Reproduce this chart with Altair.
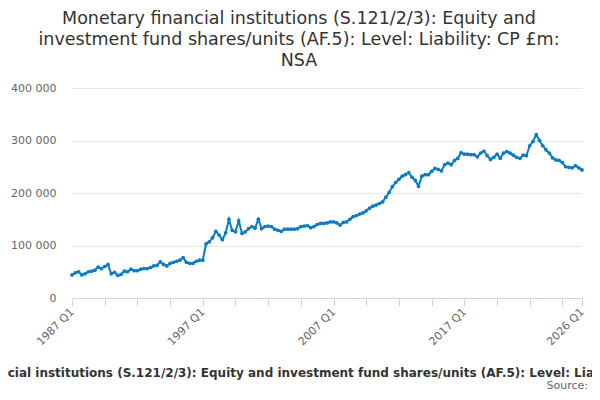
import altair as alt
import pandas as pd

values = [
    44000, 48000, 50000, 44000, 46000, 50000, 51000, 53000, 59000, 56000,
    60000, 64000, 46000, 49000, 43000, 45000, 51000, 50000, 55000, 52000,
    52000, 55000, 56000, 56000, 58000, 61000, 62000, 69000, 64000, 61000,
    66000, 68000, 70000, 72000, 77000, 68000, 66000, 66000, 70000, 72000,
    72000, 103000, 107000, 115000, 127000, 120000, 111000, 124000, 150000, 129000,
    126000, 147000, 123000, 126000, 132000, 136000, 133000, 150000, 132000, 136000,
    137000, 136000, 131000, 129000, 127000, 131000, 131000, 131000, 131000, 132000,
    136000, 137000, 138000, 134000, 136000, 140000, 142000, 142000, 143000, 145000,
    145000, 143000, 139000, 144000, 145000, 150000, 155000, 157000, 160000, 162000,
    166000, 171000, 175000, 177000, 180000, 183000, 192000, 201000, 212000, 220000,
    226000, 232000, 235000, 239000, 230000, 224000, 213000, 232000, 235000, 235000,
    241000, 247000, 245000, 242000, 254000, 257000, 254000, 262000, 266000, 277000,
    274000, 274000, 273000, 273000, 269000, 276000, 280000, 271000, 264000, 268000,
    274000, 266000, 276000, 279000, 276000, 272000, 268000, 266000, 272000, 271000,
    290000, 298000, 311000, 300000, 290000, 282000, 276000, 267000, 263000, 262000,
    258000, 250000, 249000, 248000, 252000, 248000, 244000,
]
start_year = 1987
quarters = [f"{start_year + i // 4} Q{i % 4 + 1}" for i in range(len(values))]
x_tick_values = list(range(0, len(values), 10)) + [len(values) - 1]
x_label_values = [0, 40, 80, 120, len(values) - 1]
y_tick_values = [0, 100000, 200000, 300000, 400000]

title_lines = [
    "Monetary financial institutions (S.121/2/3): Equity and",
    "investment fund shares/units (AF.5): Level: Liability: CP £m:",
    "NSA",
]
axis_title = "Monetary financial institutions (S.121/2/3): Equity and investment fund shares/units (AF.5): Level: Liability: CP £m: NSA"
source_text = "Source:"

df = pd.DataFrame({"q": list(range(len(values))), "label": quarters, "value": values})

FONT = "DejaVu Sans"
COLOR = "#0a7cc2"

label_cond = " || ".join(f"datum.value == {v}" for v in x_label_values)
x_label_expr = f"({label_cond}) ? (toString({start_year} + floor(datum.value / 4)) + ' Q' + toString(datum.value % 4 + 1)) : ''"

x = alt.X(
    "q:Q",
    scale=alt.Scale(domain=[0, len(values) - 1], nice=False, zero=False),
    axis=alt.Axis(
        values=x_tick_values,
        labelExpr=x_label_expr,
        labelAngle=-45,
        labelAlign="right",
        labelBaseline="middle",
        labelFont=FONT,
        labelFontSize=11,
        labelColor="#666666",
        labelPadding=4,
        labelOverlap=False,
        labelFlush=False,
        domainColor="#ccd6eb",
        tickColor="#ccd6eb",
        tickSize=8,
        grid=False,
        title=None,
    ),
)
y = alt.Y(
    "value:Q",
    scale=alt.Scale(domain=[0, 400000], nice=False),
    axis=alt.Axis(
        values=y_tick_values,
        labelExpr="replace(format(datum.value, ','), ',', ' ')",
        labelFont=FONT,
        labelFontSize=11,
        labelColor="#666666",
        labelPadding=16,
        domain=False,
        ticks=False,
        gridColor="#e6e6e6",
        title=None,
    ),
)

line = alt.Chart(df).mark_line(color=COLOR, strokeWidth=2).encode(x=x, y=y)
pts = alt.Chart(df).mark_circle(color=COLOR, size=14, opacity=1).encode(x=x, y=y)

one = alt.Data(values=[{"a": 1}])
title = alt.Chart(one).mark_text(
    text="\n".join(title_lines), lineBreak="\n", lineHeight=21, font=FONT,
    fontSize=17.5, color="#333333", align="center", baseline="alphabetic",
).encode(x=alt.value(227), y=alt.value(-64))
xtitle = alt.Chart(one).mark_text(
    text=axis_title, font=FONT, fontSize=12, fontWeight="bold", color="#333333",
    align="center", baseline="alphabetic",
).encode(x=alt.value(239), y=alt.value(289))
source = alt.Chart(one).mark_text(
    text=source_text, font=FONT, fontSize=11, color="#666666",
    align="right", baseline="alphabetic",
).encode(x=alt.value(516), y=alt.value(301))

chart = alt.layer(line, pts, title, xtitle, source).properties(
    width=510, height=210,
    autosize=alt.AutoSizeParams(type="none"),
    padding={"left": 64, "top": 80, "right": 10, "bottom": 94},
).configure_view(stroke=None)

chart.save("out.html", embed_options={"renderer": "svg", "actions": False})
